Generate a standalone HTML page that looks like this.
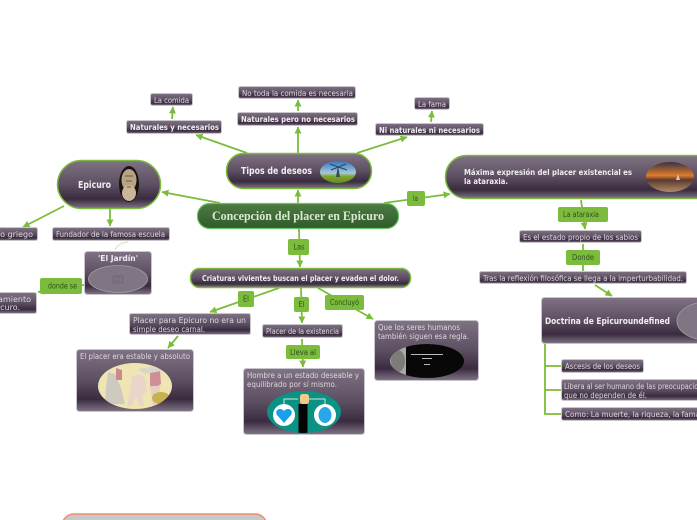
<!DOCTYPE html>
<html><head><meta charset="utf-8"><title>Concepción del placer en Epicuro</title>
<style>
html,body{margin:0;padding:0;background:#fff;width:697px;height:520px;overflow:hidden}
svg{display:block;filter:blur(.3px)}
text{font-family:"DejaVu Sans","Liberation Sans",sans-serif;font-size:8px;fill:#ddd8de}
.b{font-weight:bold;fill:#f0edf0}
.g{fill:#2f4f1c;font-size:8px}
.l{fill:none;stroke:#7cbc3c;stroke-width:1.8}
.n{fill:url(#p);stroke:#c9c5cc;stroke-width:1}
.m{fill:url(#p);stroke:#7cbc3c;stroke-width:1.5}
.t{fill:#7cbc3c}
</style></head><body>
<svg xmlns="http://www.w3.org/2000/svg" width="697" height="520" viewBox="0 0 697 520">
<defs>
<linearGradient id="p" x1="0" y1="0" x2="0" y2="1">
<stop offset="0" stop-color="#7f7283"/><stop offset=".5" stop-color="#5d4f62"/><stop offset=".8" stop-color="#3a2b3f"/><stop offset="1" stop-color="#807585"/>
</linearGradient>
<linearGradient id="c" x1="0" y1="0" x2="0" y2="1"><stop offset="0" stop-color="#4d7c42"/><stop offset="1" stop-color="#2f5a2a"/></linearGradient>
<linearGradient id="s" x1="0" y1="0" x2="0" y2="1"><stop offset="0" stop-color="#2f78c8"/><stop offset=".55" stop-color="#a8c8d8"/><stop offset=".7" stop-color="#7ea52c"/><stop offset="1" stop-color="#5f8f20"/></linearGradient>
<linearGradient id="u" x1="0" y1="0" x2="0" y2="1"><stop offset="0" stop-color="#3a3340"/><stop offset=".45" stop-color="#e07a2c"/><stop offset=".6" stop-color="#5a3a30"/><stop offset="1" stop-color="#b08a6a"/></linearGradient>
<marker id="a" markerWidth="8" markerHeight="8" refX="6.500" refY="3.500" orient="auto" markerUnits="userSpaceOnUse"><path d="M0 0L7 3.500L0 7Z" fill="#7cbc3c"/></marker>
<clipPath id="e1"><ellipse cx="304" cy="412" rx="37" ry="21"/></clipPath>
<clipPath id="e2"><ellipse cx="427" cy="361" rx="37" ry="17"/></clipPath>
<clipPath id="e3"><ellipse cx="338" cy="172" rx="18" ry="11"/></clipPath>
<clipPath id="e4"><ellipse cx="135" cy="386" rx="37" ry="23"/></clipPath>
</defs>

<!-- connectors -->
<g class="l">
<path d="M220 203L162 192" marker-end="url(#a)"/>
<path d="M298 203L298 190" marker-end="url(#a)"/>
<path d="M247 153L196 135" marker-end="url(#a)"/>
<path d="M298 153L298 127" marker-end="url(#a)"/>
<path d="M357 153L407 137" marker-end="url(#a)"/>
<path d="M172 119L173 107" marker-end="url(#a)"/>
<path d="M298 111L298 100" marker-end="url(#a)"/>
<path d="M431 122L432 111" marker-end="url(#a)"/>
<path d="M384 203L450 194" marker-end="url(#a)"/>
<path d="M581 200L585 229" marker-end="url(#a)"/>
<path d="M583 244L583 271"/>
<path d="M595 285L612 296" marker-end="url(#a)"/>
<path d="M545 344V414H561M545 366H561M545 390H561"/>
<path d="M299 229L300 267" marker-end="url(#a)"/>
<path d="M279 288L210 312" marker-end="url(#a)"/>
<path d="M301 288L302 323" marker-end="url(#a)"/>
<path d="M318 288L373 319" marker-end="url(#a)"/>
<path d="M178 336L168 348" marker-end="url(#a)"/>
<path d="M302 339L303 367" marker-end="url(#a)"/>
<path d="M64 206L23 227" marker-end="url(#a)"/>
<path d="M110 209L110 226" marker-end="url(#a)"/>
<path d="M84 285L38 292" marker-end="url(#a)"/>
</g>
<path d="M128 242Q118 243 115 250" fill="none" stroke="#bcdca0" stroke-width=".8"/>

<!-- main nodes -->
<rect class="m" x="57.500" y="160.500" width="103" height="48" rx="24"/>
<rect class="m" x="226.500" y="153.500" width="145" height="35" rx="17"/>
<rect class="m" x="445.500" y="155.500" width="290" height="43" rx="21"/>
<rect class="m" x="190.500" y="268.500" width="220" height="19" rx="9"/>
<rect x="197.500" y="203.500" width="201" height="25" rx="12" fill="url(#c)" stroke="#67c26a" stroke-width="1.200"/>
<rect x="62" y="514" width="205" height="30" rx="12" fill="#c9c9c9" stroke="#ef8f6b" stroke-width="1.500"/>

<!-- small nodes -->
<g class="n">
<rect x="150.500" y="93.500" width="42" height="12" rx="2"/>
<rect x="126.500" y="120.500" width="95" height="13" rx="2"/>
<rect x="238.500" y="86.500" width="117" height="12" rx="2"/>
<rect x="237.500" y="112.500" width="120" height="13" rx="2"/>
<rect x="414.500" y="97.500" width="35" height="12" rx="2"/>
<rect x="375.500" y="123.500" width="108" height="12" rx="2"/>
<rect x="519.500" y="230.500" width="122" height="12" rx="2"/>
<rect x="479.500" y="271.500" width="207" height="12" rx="2"/>
<rect x="541.500" y="297.500" width="180" height="46" rx="3"/>
<rect x="561.500" y="359.500" width="82" height="13" rx="2"/>
<rect x="561.500" y="379.500" width="170" height="21" rx="2"/>
<rect x="561.500" y="407.500" width="170" height="13" rx="2"/>
<rect x="52.500" y="227.500" width="117" height="13" rx="2"/>
<rect x="-30" y="227.500" width="67.500" height="13" rx="2"/>
<rect x="84.500" y="251.500" width="67" height="43" rx="3"/>
<rect x="-30" y="292.500" width="66.500" height="21" rx="2"/>
<rect x="129.500" y="313.500" width="121" height="21" rx="2"/>
<rect x="76.500" y="349.500" width="117" height="62" rx="3"/>
<rect x="262.500" y="324.500" width="80" height="13" rx="2"/>
<rect x="243.500" y="368.500" width="121" height="66" rx="3"/>
<rect x="374.500" y="320.500" width="104" height="60" rx="3"/>
</g>

<!-- green labels -->
<g class="t">
<rect x="288" y="239" width="21" height="16" rx="2"/>
<rect x="238" y="291" width="16" height="16" rx="2"/>
<rect x="294" y="297" width="15" height="15" rx="2"/>
<rect x="325" y="295" width="39" height="15" rx="2"/>
<rect x="407" y="191" width="18" height="15" rx="2"/>
<rect x="558" y="207" width="50" height="15" rx="2"/>
<rect x="566" y="250" width="34" height="15" rx="2"/>
<rect x="286" y="345" width="34" height="14" rx="2"/>
<rect x="40" y="278" width="42" height="16" rx="2"/>
</g>

<!-- images -->
<ellipse cx="129" cy="184" rx="10" ry="18" fill="#17130f"/>
<ellipse cx="129" cy="180" rx="7.500" ry="11" fill="#b9a283"/>
<ellipse cx="129" cy="193" rx="7" ry="8" fill="#c9b59a"/>
<path d="M125 176h8M126 181h6M127 187h4" stroke="#6a5642" stroke-width="1"/>

<ellipse cx="338" cy="172" rx="18" ry="11" fill="url(#s)"/>
<g clip-path="url(#e3)"><path d="M336 177L338 166L340 177Z" fill="#3a4a58"/><path d="M330 164L347 170M346 164L331 170" stroke="#24425e" stroke-width="1"/></g>

<ellipse cx="670" cy="177" rx="24" ry="15" fill="url(#u)"/>
<path d="M676 180l2-6 2 6z" fill="#d8c8b0"/>

<ellipse cx="707" cy="321" rx="30" ry="19" fill="#7f7583" stroke="#a69ea9" stroke-width=".8"/>

<ellipse cx="118" cy="279" rx="29.500" ry="13.500" fill="#7f7583" stroke="#a69ea9" stroke-width=".8"/>
<rect x="113" y="276" width="10" height="7" rx="1.500" fill="none" stroke="#6f6573" stroke-width="1"/>
<circle cx="118" cy="279.500" r="2" fill="none" stroke="#6f6573" stroke-width=".8"/>

<ellipse cx="135" cy="386" rx="37" ry="23" fill="#efe5b4"/>
<g clip-path="url(#e4)">
<path d="M108 372l7 2 6 14 4 16h-20l1-16z" fill="#cfcac0"/>
<path d="M116 368l6 2 0 10-6 0z" fill="#c88a90"/>
<path d="M132 376l8-2 5 4 2 14-5 2 2 12h-5l-3-10-4 10h-5l3-16z" fill="#ead5c8"/>
<path d="M150 370l10 0 1 14-3 2h-8z" fill="#cf8f98"/>
<path d="M150 386h10l-1 20h-6z" fill="#e6cfc0"/>
<ellipse cx="161" cy="398" rx="9" ry="6" fill="#c9b050"/>
<path d="M137 369l20-3 4 5-16 3z" fill="#d9d6c8"/>
</g>

<ellipse cx="304" cy="412" rx="37" ry="21" fill="#0a9384"/>
<g clip-path="url(#e1)">
<path d="M284 415V399H298M309 399H325V415" fill="none" stroke="#cfe8e0" stroke-width="1"/>
<rect x="298.500" y="404" width="9" height="31" fill="#050505"/>
<rect x="300" y="394" width="9" height="10" rx="2.500" fill="#f5c98c"/>
<circle cx="284" cy="415" r="11" fill="#fff"/><circle cx="325" cy="415" r="11" fill="#fff"/>
<path d="M284 423l-7-8c-2-3 0-6 3-6 2 0 3 1 4 2 1-1 2-2 4-2 3 0 5 3 3 6z" fill="#1aa0e8"/>
<ellipse cx="325" cy="415" rx="6.500" ry="8" fill="#2aa5ea"/>
</g>

<ellipse cx="427" cy="361" rx="37" ry="17" fill="#080808"/>
<g clip-path="url(#e2)"><rect x="389" y="343" width="17" height="36" fill="#a9a9a5"/><ellipse cx="398" cy="361" rx="7" ry="11" fill="#7e7c78"/></g>
<g fill="#bbb"><rect x="411" y="354" width="32" height="1"/><rect x="422" y="358" width="10" height="1"/><rect x="424" y="364" width="6" height="1"/></g>

<!-- text -->
<text class="b" x="78" y="188" style="font-size:10px" textLength="33" lengthAdjust="spacingAndGlyphs">Epicuro</text>
<text class="b" x="241" y="174" style="font-size:10px" textLength="71" lengthAdjust="spacingAndGlyphs">Tipos de deseos</text>
<text class="b" x="464" y="175" textLength="168" lengthAdjust="spacingAndGlyphs">Máxima expresión del placer existencial es</text>
<text class="b" x="464" y="184" textLength="44" lengthAdjust="spacingAndGlyphs">la ataraxia.</text>
<text class="b" x="202" y="281" textLength="197" lengthAdjust="spacingAndGlyphs">Criaturas vivientes buscan el placer y evaden el dolor.</text>
<text x="212" y="220" style="font-family:'Liberation Serif',serif;font-weight:bold;font-size:13px;fill:#dce8d4" textLength="172" lengthAdjust="spacingAndGlyphs">Concepción del placer en Epicuro</text>

<text x="154" y="103" textLength="35" lengthAdjust="spacingAndGlyphs">La comida</text>
<text class="b" x="130" y="130" textLength="89" lengthAdjust="spacingAndGlyphs">Naturales y necesarios</text>
<text x="242" y="96" textLength="111" lengthAdjust="spacingAndGlyphs">No toda la comida es necesaria</text>
<text class="b" x="241" y="122" textLength="114" lengthAdjust="spacingAndGlyphs">Naturales pero no necesarios</text>
<text x="418" y="107" textLength="28" lengthAdjust="spacingAndGlyphs">La fama</text>
<text class="b" x="379" y="133" textLength="101" lengthAdjust="spacingAndGlyphs">Ni naturales ni necesarios</text>
<text x="523" y="240" textLength="115" lengthAdjust="spacingAndGlyphs">Es el estado propio de los sabios</text>
<text x="483" y="281" textLength="200" lengthAdjust="spacingAndGlyphs">Tras la reflexión filosófica se llega a la imperturbabilidad.</text>
<text class="b" x="545" y="324" style="font-size:8.500px" textLength="125" lengthAdjust="spacingAndGlyphs">Doctrina de Epicuroundefined</text>
<text x="565" y="369" textLength="75" lengthAdjust="spacingAndGlyphs">Ascesis de los deseos</text>
<text x="564" y="389" textLength="146" lengthAdjust="spacingAndGlyphs">Libera al ser humano de las preocupaciones</text>
<text x="564" y="398" textLength="83" lengthAdjust="spacingAndGlyphs">que no dependen de él.</text>
<text x="565" y="417" textLength="142" lengthAdjust="spacingAndGlyphs">Como: La muerte, la riqueza, la fama...</text>
<text x="56" y="237" textLength="109" lengthAdjust="spacingAndGlyphs">Fundador de la famosa escuela</text>
<text x="33" y="237" text-anchor="end">Filósofo griego</text>
<text class="b" x="98" y="261" textLength="40" lengthAdjust="spacingAndGlyphs">'El Jardín'</text>
<text x="31" y="302" text-anchor="end">pensamiento</text>
<text x="20" y="310" text-anchor="end">de Epicuro.</text>
<text x="133" y="323" textLength="113" lengthAdjust="spacingAndGlyphs">Placer para Epicuro no era un</text>
<text x="133" y="332" textLength="72" lengthAdjust="spacingAndGlyphs">simple deseo carnal.</text>
<text x="80" y="359" textLength="110" lengthAdjust="spacingAndGlyphs">El placer era estable y absoluto</text>
<text x="266" y="334" textLength="73" lengthAdjust="spacingAndGlyphs">Placer de la existencia</text>
<text x="247" y="378" textLength="112" lengthAdjust="spacingAndGlyphs">Hombre a un estado deseable y</text>
<text x="247" y="387" textLength="90" lengthAdjust="spacingAndGlyphs">equilibrado por sí mismo.</text>
<text x="378" y="330" textLength="82" lengthAdjust="spacingAndGlyphs">Que los seres humanos</text>
<text x="378" y="339" textLength="91" lengthAdjust="spacingAndGlyphs">también siguen esa regla.</text>

<text class="g" x="293.500" y="249.500" textLength="11" lengthAdjust="spacingAndGlyphs">Las</text>
<text class="g" x="243" y="301.500" textLength="6" lengthAdjust="spacingAndGlyphs">El</text>
<text class="g" x="298.500" y="307" textLength="6" lengthAdjust="spacingAndGlyphs">El</text>
<text class="g" x="330" y="305" textLength="29" lengthAdjust="spacingAndGlyphs">Concluyó</text>
<text class="g" x="413" y="201" textLength="5" lengthAdjust="spacingAndGlyphs">la</text>
<text class="g" x="563" y="217" textLength="36" lengthAdjust="spacingAndGlyphs">La ataraxia</text>
<text class="g" x="572" y="260" textLength="22" lengthAdjust="spacingAndGlyphs">Donde</text>
<text class="g" x="290" y="355" textLength="26" lengthAdjust="spacingAndGlyphs">Lleva al</text>
<text class="g" x="48" y="288.500" textLength="29" lengthAdjust="spacingAndGlyphs">donde se</text>
</svg>
</body></html>
